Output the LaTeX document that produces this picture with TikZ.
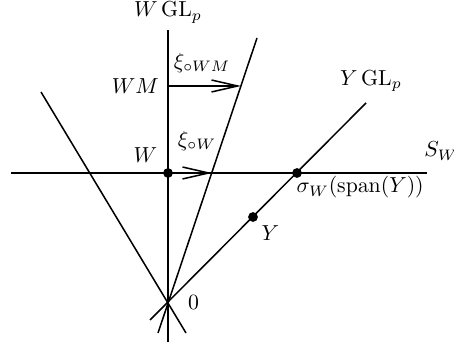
\documentclass[tikz,border=0pt]{standalone}
\usepackage{amsmath}
\usetikzlibrary{arrows.meta,positioning}

\begin{document}
\begin{tikzpicture}[
    x=0.46pt, y=-0.46pt,
    line/.style={line width=0.7pt},
    arrow/.style={line width=0.7pt, -{Straight Barb[length=12pt,width=5.5pt]}},
    dot/.style={circle, fill, inner sep=0pt, minimum size=4.5pt},
    lbl/.style={inner sep=1pt}
]
\useasboundingbox (0,0) rectangle (454,342);

% Points
\coordinate (O) at (168,302);
\coordinate (WM) at (168,86);
\coordinate (xiW) at (212,173);
\coordinate (xiWM) at (241,86);

% Line ends
\coordinate (vtop) at (168,30);
\coordinate (vbot) at (168,342);
\coordinate (sleft) at (11,173);
\coordinate (sright) at (427,173);
\coordinate (ftop) at (257,38);
\coordinate (fbot) at (158,333);
\coordinate (ltop) at (41,92);
\coordinate (lbot) at (186,333);
\coordinate (ytop) at (366,103);
\coordinate (ybot) at (150,320);

% Lines
\draw[line] (vbot) -- (vtop);
\draw[line] (sleft) -- (sright);
\draw[line] (fbot) -- (ftop);
\draw[line] (lbot) -- (ltop);
\draw[line] (ybot) -- (ytop);

% Dots
\node[dot] (W) at (168,173) {};
\node[dot] (sigma) at (297,173) {};
\node[dot] (Y) at (253,217) {};

% Arrows
\draw[arrow] (W) -- (xiW);
\draw[arrow] (WM) -- (xiWM);

% Labels
\node[lbl, above=2pt of vtop] (WGL) {$W\,\mathrm{GL}_p$};
\node[lbl, left=3pt of WM] (WMlbl) {$W M$};
\node[lbl] (xiWMlbl) at (202,63) {$\xi_{\circ W M}$};
\node[lbl] (xiWlbl) at (197,141) {$\xi_{\circ W}$};
\node[lbl, above left=2pt and 2pt of W] (Wlbl) {$W$};
\node[lbl] (SW) at (441,151) {$S_W$};
\node[lbl, anchor=north west] (sigmalbl) at (294,174) {$\sigma_W(\mathrm{span}(Y))$};
\node[lbl] (YGL) at (371,81) {$Y\,\mathrm{GL}_p$};
\node[lbl, below right=1pt and 1pt of Y] (Ylbl) {$Y$};
\node[lbl, right=8pt of O] (Olbl) {$0$};

\end{tikzpicture}
\end{document}
